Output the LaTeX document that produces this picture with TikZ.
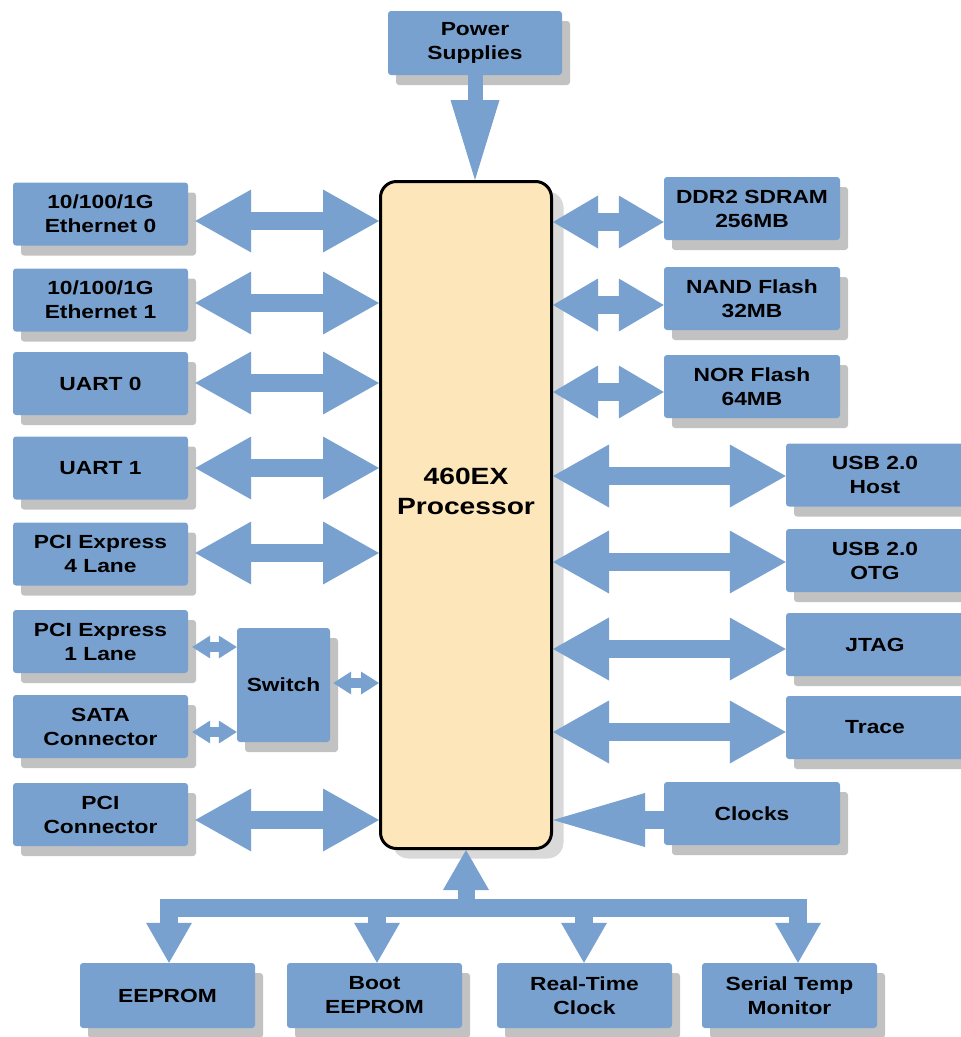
\documentclass[tikz,border=0pt]{standalone}
\usepackage{fontspec}
\setmainfont[FakeStretch=1.2]{Liberation Sans}
\usetikzlibrary{arrows.meta,shadows,calc}
\definecolor{blkblue}{RGB}{121,161,207}
\definecolor{shadowgray}{RGB}{194,194,194}
\definecolor{procfill}{RGB}{253,231,186}
\definecolor{procshadow}{RGB}{217,217,217}
\tikzset{
  blk/.style={fill=blkblue, rounded corners=3pt, minimum width=175pt, minimum height=63pt,
    inner sep=1pt, align=center, font=\fontsize{19}{24}\selectfont\bfseries,
    drop shadow={fill=shadowgray, opacity=1, shadow xshift=8pt, shadow yshift=-10pt}},
  proc/.style={draw=black, line width=3pt, fill=procfill, rounded corners=16pt,
    minimum width=171pt, minimum height=667pt,
    drop shadow={fill=procshadow, opacity=1, shadow xshift=12pt, shadow yshift=-10pt}},
  proctext/.style={align=center, font=\fontsize{23.5}{30}\selectfont\bfseries},
  fat/.style={draw=blkblue, line width=18pt},
  bigarrow/.style={fat, {Triangle[length=56pt,width=63pt,line width=0pt]}-{Triangle[length=56pt,width=63pt,line width=0pt]}},
  memarrow/.style={fat, {Triangle[length=45pt,width=53pt,line width=0pt]}-{Triangle[length=45pt,width=53pt,line width=0pt]}},
  smallarrow/.style={draw=blkblue, line width=10pt, {Triangle[length=18pt,width=23pt,line width=0pt]}-{Triangle[length=18pt,width=23pt,line width=0pt]}},
  busarrow/.style={draw=blkblue, line width=18pt, line join=miter, -{Triangle[length=40pt,width=46pt,line width=0pt]}},
}

\begin{document}
\begin{tikzpicture}[x=1pt,y=-1pt]
  \useasboundingbox (0,0) rectangle (961,1037);

  \node[proc] (cpu) at (466,515) {};
  \node[proctext] (cputext) at (466,491) {460EX\\Processor};
  \node[blk, minimum width=174pt, minimum height=64pt] (power) at (475,43) {Power\\Supplies};

  \node[blk] (eth0) at (100.5,214) {10/100/1G\\Ethernet 0};
  \node[blk] (eth1) at (100.5,300) {10/100/1G\\Ethernet 1};
  \node[blk] (uart0) at (100.5,383.5) {UART 0};
  \node[blk] (uart1) at (100.5,468) {UART 1};
  \node[blk] (pcie4) at (100.5,554) {PCI Express\\4 Lane};
  \node[blk] (pcie1) at (100.5,641.5) {PCI Express\\1 Lane};
  \node[blk] (sata) at (100.5,726.5) {SATA\\Connector};
  \node[blk] (pci) at (100.5,814.5) {PCI\\Connector};
  \node[blk, minimum width=93pt, minimum height=114pt] (switch) at (283.5,685) {Switch};

  \node[blk, minimum width=176pt] (ddr) at (752,208.5) {DDR2 SDRAM\\256MB};
  \node[blk, minimum width=176pt] (nand) at (752,298.5) {NAND Flash\\32MB};
  \node[blk, minimum width=176pt] (nor) at (752,386.5) {NOR Flash\\64MB};
  \node[blk, minimum width=178pt] (usbh) at (875,475) {USB 2.0\\Host};
  \node[blk, minimum width=178pt] (usbo) at (875,560.5) {USB 2.0\\OTG};
  \node[blk, minimum width=178pt] (jtag) at (875,644.5) {JTAG};
  \node[blk, minimum width=178pt] (trace) at (875,727.5) {Trace};
  \node[blk, minimum width=176pt] (clocks) at (752,813.5) {Clocks};

  \node[blk, minimum height=65pt] (eeprom) at (167.5,995.5) {EEPROM};
  \node[blk, minimum height=65pt] (boot) at (374.5,995.5) {Boot\\EEPROM};
  \node[blk, minimum height=65pt] (rtc) at (584.5,995.5) {Real-Time\\Clock};
  \node[blk, minimum height=65pt] (temp) at (789.5,995.5) {Serial Temp\\Monitor};

  \coordinate (busl) at (169,907.5);
  \coordinate (busb) at (377,907.5);
  \coordinate (busc) at (466,907.5);
  \coordinate (bust) at (584,907.5);
  \coordinate (busr) at (798,907.5);

  \draw[draw=blkblue, line width=15pt, -{Triangle[length=80pt,width=49pt,line width=0pt]}] (power.south) -- (cpu.north -| power.south);

  \draw[bigarrow, shorten <=7pt] (eth0.east |- 0,221) -- (cpu.west |- 0,221);
  \draw[bigarrow, shorten <=7pt] (eth1.east |- 0,303) -- (cpu.west |- 0,303);
  \draw[bigarrow, shorten <=7pt] (uart0.east |- 0,383) -- (cpu.west |- 0,383);
  \draw[bigarrow, shorten <=7pt] (uart1.east |- 0,468) -- (cpu.west |- 0,468);
  \draw[bigarrow, shorten <=7pt] (pcie4.east |- 0,553) -- (cpu.west |- 0,553);
  \draw[bigarrow, shorten <=7pt] (pci.east |- 0,820) -- (cpu.west |- 0,820);

  \draw[smallarrow, shorten <=4pt] (pcie1.east |- 0,647) -- (switch.west |- 0,647);
  \draw[smallarrow, shorten <=4pt] (sata.east |- 0,732) -- (switch.west |- 0,732);
  \draw[smallarrow, shorten <=3pt] (switch.east |- 0,683) -- (cpu.west |- 0,683);

  \draw[memarrow] (cpu.east |- 0,222) -- (ddr.west |- 0,222);
  \draw[memarrow] (cpu.east |- 0,305) -- (nand.west |- 0,305);
  \draw[memarrow] (cpu.east |- 0,392) -- (nor.west |- 0,392);

  \draw[bigarrow] (cpu.east |- 0,476) -- (usbh.west |- 0,476);
  \draw[bigarrow] (cpu.east |- 0,562) -- (usbo.west |- 0,562);
  \draw[bigarrow] (cpu.east |- 0,649) -- (jtag.west |- 0,649);
  \draw[bigarrow] (cpu.east |- 0,732) -- (trace.west |- 0,732);

  \draw[fat, -{Triangle[length=92pt,width=54pt,line width=0pt]}] (clocks.west |- 0,820) -- (cpu.east |- 0,820);

  \draw[busarrow, {Triangle[length=40pt,width=46pt,line width=0pt]}-{Triangle[length=40pt,width=46pt,line width=0pt]}]
    (eeprom.north -| busl) -- (busl) -- (busr) -- (temp.north -| busr);
  \draw[busarrow] (busb) -- (boot.north -| busb);
  \draw[busarrow] (bust) -- (rtc.north -| bust);
  \draw[busarrow, line width=17pt] (busc) -- (cpu.south);
\end{tikzpicture}
\end{document}
